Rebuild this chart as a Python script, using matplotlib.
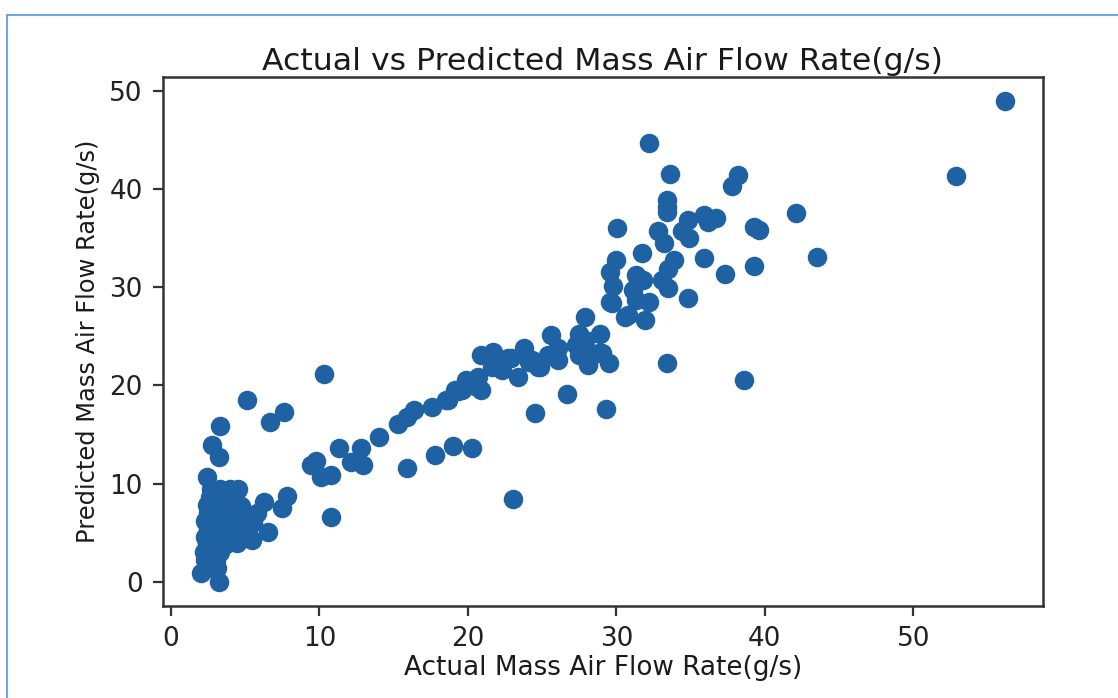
import matplotlib
matplotlib.use("Agg")
import matplotlib.pyplot as plt
from matplotlib.lines import Line2D

# actual vs predicted mass air flow (g/s)
actual = [
    # dense low-flow cluster
    2.7, 3.3, 4.0, 4.5, 2.6, 3.5, 4.3, 2.4, 3.0, 3.8, 4.4, 2.5, 3.3, 4.1,
    2.3, 2.9, 3.6, 4.3, 2.5, 3.2, 3.9, 2.3, 2.9, 3.6, 2.4, 3.1, 3.7,
    2.2, 2.8, 3.3, 2.3, 3.0, 2.6, 3.1, 2.0, 3.2,
    # arm to the right of the cluster
    4.45, 5.45, 5.5, 5.8, 6.25, 6.5, 7.5, 7.8, 4.9, 4.8, 5.2, 4.7,
    # upper-left outliers
    2.4, 2.75, 3.2, 3.3, 5.1, 6.7, 7.6, 10.3, 10.8,
    # 9-15
    9.4, 9.8, 10.1, 10.8, 11.3, 12.1, 12.8, 12.9, 14.0,
    # band 15-21
    15.3, 15.9, 16.4, 17.6, 18.65, 19.6, 20.5, 18.5, 19.1, 19.3, 19.9,
    20.7, 20.9, 15.9, 17.75, 19.0, 20.3,
    # band 20-27
    20.9, 21.7, 21.6, 22.3, 22.9, 23.4, 23.8, 24.3, 24.85, 25.4, 25.6,
    26.1, 26.1, 24.1, 22.7, 24.7,
    26.65, 24.5, 29.3, 23.05,
    # 27-30
    27.45, 28.9, 27.3, 27.45, 28.1, 29.0, 29.5, 28.8, 27.9, 28.3, 28.1,
    27.9, 29.7,
    # 30-40
    32.17, 33.6, 38.2, 37.8, 33.4, 33.4, 33.4, 30.04, 39.3, 39.6,
    35.9, 36.7, 36.2, 34.8, 34.4, 34.9, 33.2, 32.8, 31.7, 35.9, 37.3,
    39.3, 33.9, 33.5, 33.1, 33.5, 30.0, 29.6, 29.8, 29.6, 31.3, 31.8,
    31.1, 32.2, 31.3, 30.6, 31.95, 30.8, 34.8, 33.4, 38.6,
    # high flow
    42.1, 43.5, 52.9, 56.2,
]
predicted = [
    9.4, 9.4, 9.4, 9.4, 8.6, 8.6, 8.6, 7.8, 7.8, 7.8, 7.8, 7.0, 7.0, 7.0,
    6.2, 6.2, 6.2, 6.2, 5.4, 5.4, 5.4, 4.6, 4.6, 4.6, 3.8, 3.8, 3.8,
    3.0, 3.0, 3.0, 2.2, 2.2, 1.4, 1.4, 0.9, 0.0,
    3.9, 4.25, 6.1, 7.0, 8.15, 5.1, 7.5, 8.7, 5.6, 6.5, 5.3, 7.7,
    10.7, 13.9, 12.7, 15.9, 18.5, 16.3, 17.3, 21.2, 6.6,
    11.9, 12.3, 10.7, 10.9, 13.6, 12.2, 13.6, 11.9, 14.8,
    16.1, 16.8, 17.5, 17.8, 18.5, 19.5, 19.9, 18.5, 19.5, 19.4, 20.6,
    20.9, 19.5, 11.55, 12.9, 13.8, 13.6,
    23.1, 23.4, 21.9, 21.6, 22.8, 20.9, 23.8, 22.6, 21.9, 23.1, 25.1,
    22.6, 23.8, 22.4, 22.8, 21.9,
    19.1, 17.2, 17.6, 8.4,
    25.3, 25.3, 24.1, 23.1, 22.3, 23.3, 22.3, 23.3, 27.0, 23.3, 22.1,
    24.6, 28.4,
    44.75, 41.6, 41.5, 40.3, 38.9, 38.2, 37.7, 36.1, 36.2, 35.85,
    37.4, 37.1, 36.7, 36.9, 35.8, 35.0, 34.5, 35.7, 33.5, 33.0, 31.4,
    32.2, 32.8, 31.9, 30.75, 29.9, 32.8, 31.6, 30.1, 28.5, 31.3, 30.75,
    29.7, 28.5, 28.7, 27.0, 26.7, 27.2, 28.9, 22.3, 20.6,
    37.6, 33.1, 41.4, 49.0,
]

fs = 18.9
fig = plt.figure(figsize=(11.18, 6.98), dpi=100)
ax = fig.add_axes([163 / 1118, 1 - 606 / 698, (1043 - 163) / 1118, (606 - 77) / 698])

ax.scatter(actual, predicted, s=170, color="#1f62a3", zorder=3)
ax.set_xlim(-0.54, 58.74)
ax.set_ylim(-2.48, 51.45)
ax.set_xticks([0, 10, 20, 30, 40, 50])
ax.set_yticks([0, 10, 20, 30, 40, 50])
ax.tick_params(labelsize=fs, length=7.5, width=1.6, colors="#333333", pad=7)
ax.tick_params(labelcolor="#222222")
for sp in ax.spines.values():
    sp.set_linewidth(1.8)
    sp.set_color("#333333")

ax.set_title("Actual vs Predicted Mass Air Flow Rate(g/s)", fontsize=fs * 1.2,
             color="#1a1a1a", pad=5)
ax.set_xlabel("Actual Mass Air Flow Rate(g/s)", fontsize=fs, color="#1a1a1a", labelpad=2)
# the screenshot is a little squashed vertically, so the rotated label is shorter
ax.set_ylabel("Predicted Mass Air Flow Rate(g/s)", fontsize=17.4, color="#1a1a1a", labelpad=7)

# light blue frame of the screenshot (top and left edges only)
fig.add_artist(Line2D([7 / 1118, 1], [1 - 15 / 698, 1 - 15 / 698], color="#6fa6dd", lw=1.5,
                      transform=fig.transFigure))
fig.add_artist(Line2D([7 / 1118, 7 / 1118], [0, 1 - 15 / 698], color="#6fa6dd", lw=1.5,
                      transform=fig.transFigure))

fig.savefig("out.png", dpi=100)
